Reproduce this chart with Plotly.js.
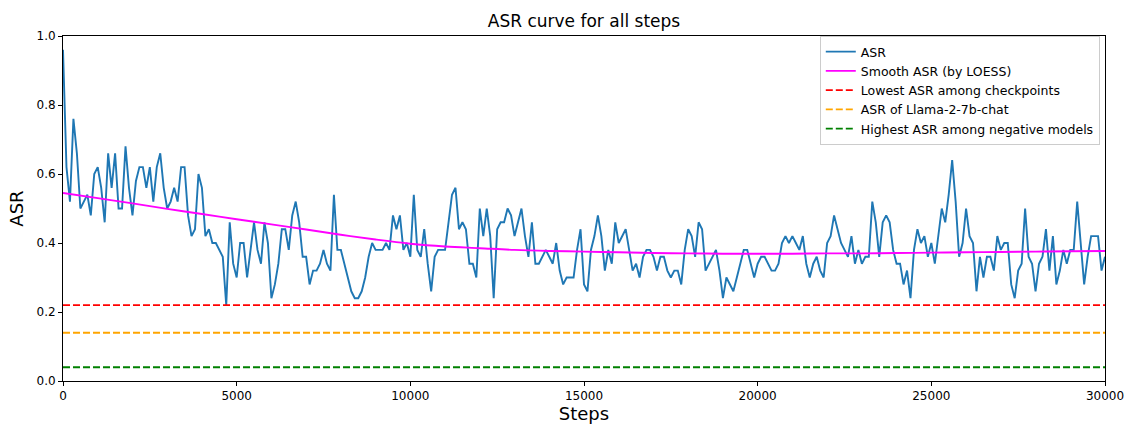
<!DOCTYPE html>
<html>
<head>
<meta charset="utf-8">
<script src="https://cdn.plot.ly/plotly-3.0.1.min.js"></script>
<style>
  html, body { margin: 0; padding: 0; background: #ffffff; }
  #chart { width: 1125px; height: 424px; }
</style>
</head>
<body>
<div id="chart"></div>
<script>
const stepInterval = 100;
const asr = [
  0.96, 0.62, 0.52, 0.76, 0.66, 0.50, 0.52, 0.54, 0.48, 0.60,
  0.62, 0.56, 0.46, 0.66, 0.56, 0.66, 0.50, 0.50, 0.68, 0.56,
  0.48, 0.58, 0.62, 0.62, 0.56, 0.62, 0.52, 0.62, 0.66, 0.56,
  0.50, 0.52, 0.56, 0.52, 0.62, 0.62, 0.48, 0.42, 0.44, 0.60,
  0.56, 0.42, 0.44, 0.40, 0.40, 0.38, 0.36, 0.22, 0.46, 0.34,
  0.30, 0.40, 0.40, 0.30, 0.38, 0.46, 0.38, 0.34, 0.46, 0.40,
  0.24, 0.28, 0.34, 0.44, 0.44, 0.38, 0.48, 0.52, 0.46, 0.36,
  0.36, 0.28, 0.32, 0.32, 0.34, 0.38, 0.34, 0.32, 0.54, 0.38,
  0.38, 0.34, 0.30, 0.26, 0.24, 0.24, 0.26, 0.30, 0.36, 0.40,
  0.38, 0.38, 0.38, 0.40, 0.38, 0.48, 0.44, 0.48, 0.38, 0.40,
  0.36, 0.54, 0.38, 0.36, 0.44, 0.34, 0.26, 0.36, 0.38, 0.38,
  0.38, 0.46, 0.54, 0.56, 0.44, 0.46, 0.44, 0.34, 0.34, 0.30,
  0.50, 0.42, 0.50, 0.42, 0.24, 0.44, 0.46, 0.46, 0.50, 0.48,
  0.42, 0.46, 0.50, 0.42, 0.36, 0.46, 0.34, 0.34, 0.36, 0.38,
  0.36, 0.34, 0.40, 0.32, 0.28, 0.30, 0.30, 0.30, 0.38, 0.44,
  0.28, 0.26, 0.38, 0.42, 0.48, 0.42, 0.32, 0.38, 0.34, 0.46,
  0.40, 0.42, 0.44, 0.38, 0.32, 0.34, 0.30, 0.36, 0.38, 0.38,
  0.36, 0.32, 0.36, 0.36, 0.32, 0.30, 0.32, 0.32, 0.28, 0.38,
  0.44, 0.42, 0.36, 0.46, 0.44, 0.32, 0.34, 0.36, 0.38, 0.32,
  0.24, 0.30, 0.28, 0.26, 0.30, 0.34, 0.38, 0.38, 0.34, 0.30,
  0.34, 0.36, 0.36, 0.34, 0.32, 0.32, 0.34, 0.40, 0.42, 0.40,
  0.42, 0.40, 0.38, 0.42, 0.34, 0.30, 0.34, 0.36, 0.32, 0.30,
  0.40, 0.42, 0.48, 0.44, 0.40, 0.38, 0.36, 0.42, 0.34, 0.38,
  0.34, 0.36, 0.36, 0.52, 0.46, 0.36, 0.46, 0.48, 0.46, 0.38,
  0.34, 0.34, 0.28, 0.32, 0.24, 0.38, 0.44, 0.40, 0.42, 0.36,
  0.40, 0.34, 0.42, 0.50, 0.46, 0.54, 0.64, 0.52, 0.36, 0.40,
  0.50, 0.42, 0.40, 0.26, 0.36, 0.30, 0.36, 0.36, 0.32, 0.42,
  0.38, 0.40, 0.40, 0.28, 0.24, 0.32, 0.34, 0.50, 0.36, 0.34,
  0.26, 0.34, 0.36, 0.44, 0.32, 0.42, 0.28, 0.32, 0.38, 0.34,
  0.38, 0.38, 0.52, 0.40, 0.28, 0.36, 0.42, 0.42, 0.42, 0.32,
  0.36
];
const steps = asr.map((_, i) => i * stepInterval);

// LOESS smooth curve, read every 1000 steps
const smoothSteps = [0, 1000, 2000, 3000, 4000, 5000, 6000, 7000, 8000, 9000,
  10000, 11000, 12000, 13000, 14000, 15000, 16000, 17000, 18000, 19000,
  20000, 21000, 22000, 23000, 24000, 25000, 26000, 27000, 28000, 29000, 30000];
const smoothAsr = [0.545, 0.530, 0.515, 0.499, 0.484, 0.469, 0.454, 0.439, 0.424, 0.410,
  0.398, 0.390, 0.385, 0.380, 0.377, 0.375, 0.373, 0.371, 0.370, 0.369,
  0.369, 0.369, 0.370, 0.370, 0.371, 0.372, 0.373, 0.374, 0.375, 0.376, 0.377];

// reference levels
const lowestCheckpointAsr = 0.22;
const llamaChatAsr = 0.14;
const highestNegativeAsr = 0.04;

const seriesNames = ["ASR", "Smooth ASR (by LOESS)", "Lowest ASR among checkpoints",
  "ASR of Llama-2-7b-chat", "Highest ASR among negative models"];
const xTicks = [0, 5000, 10000, 15000, 20000, 25000, 30000];
const yTicks = [0.0, 0.2, 0.4, 0.6, 0.8, 1.0];

const xEnds = [steps[0], steps[steps.length - 1]];
function hline(val, name, color) {
  return { x: xEnds, y: [val, val], type: 'scatter', mode: 'lines', name: name,
    line: { color: color, width: 1.9, dash: '7px,3px' } };
}

const traces = [
  { x: steps, y: asr, type: 'scatter', mode: 'lines', name: seriesNames[0],
    line: { color: '#1f77b4', width: 1.9 } },
  { x: smoothSteps, y: smoothAsr, type: 'scatter', mode: 'lines', name: seriesNames[1],
    line: { color: '#ff00ff', width: 1.9, shape: 'spline' } },
  hline(lowestCheckpointAsr, seriesNames[2], '#ff0000'),
  hline(llamaChatAsr, seriesNames[3], '#ffa500'),
  hline(highestNegativeAsr, seriesNames[4], '#008000')
];

const font = "'DejaVu Sans', sans-serif";
const layout = {
  width: 1125, height: 424,
  margin: { l: 63, r: 20, t: 36, b: 43 },
  paper_bgcolor: '#ffffff', plot_bgcolor: '#ffffff',
  font: { family: font, color: '#000000', size: 12 },
  title: { text: 'ASR curve for all steps', font: { family: font, size: 17, color: '#000' },
    x: 0.5, xref: 'paper', y: 0.95, yanchor: 'middle' },
  xaxis: {
    range: [0, 30000], tickvals: xTicks, ticktext: xTicks.map(String),
    ticks: 'outside', ticklen: 4, tickcolor: '#000', tickwidth: 1,
    showline: true, linecolor: '#000', linewidth: 1, mirror: true,
    showgrid: false, zeroline: false,
    tickfont: { family: font, size: 12 },
    title: { text: 'Steps', font: { family: font, size: 18 }, standoff: 5 }
  },
  yaxis: {
    range: [0, 1], tickvals: yTicks, ticktext: yTicks.map(v => v.toFixed(1)),
    ticks: 'outside', ticklen: 4, tickcolor: '#000', tickwidth: 1,
    showline: true, linecolor: '#000', linewidth: 1, mirror: true,
    showgrid: false, zeroline: false,
    tickfont: { family: font, size: 12 },
    title: { text: 'ASR', font: { family: font, size: 18 }, standoff: 8 }
  },
  showlegend: true,
  legend: {
    x: 0.995, xanchor: 'right', y: 1.0, yanchor: 'top',
    bgcolor: 'rgba(255,255,255,0.85)', bordercolor: '#cccccc', borderwidth: 1,
    font: { family: font, size: 12.5 }, itemwidth: 30, tracegroupgap: 0
  }
};

Plotly.newPlot('chart', traces, layout, { staticPlot: true, displayModeBar: false });
</script>
</body>
</html>
